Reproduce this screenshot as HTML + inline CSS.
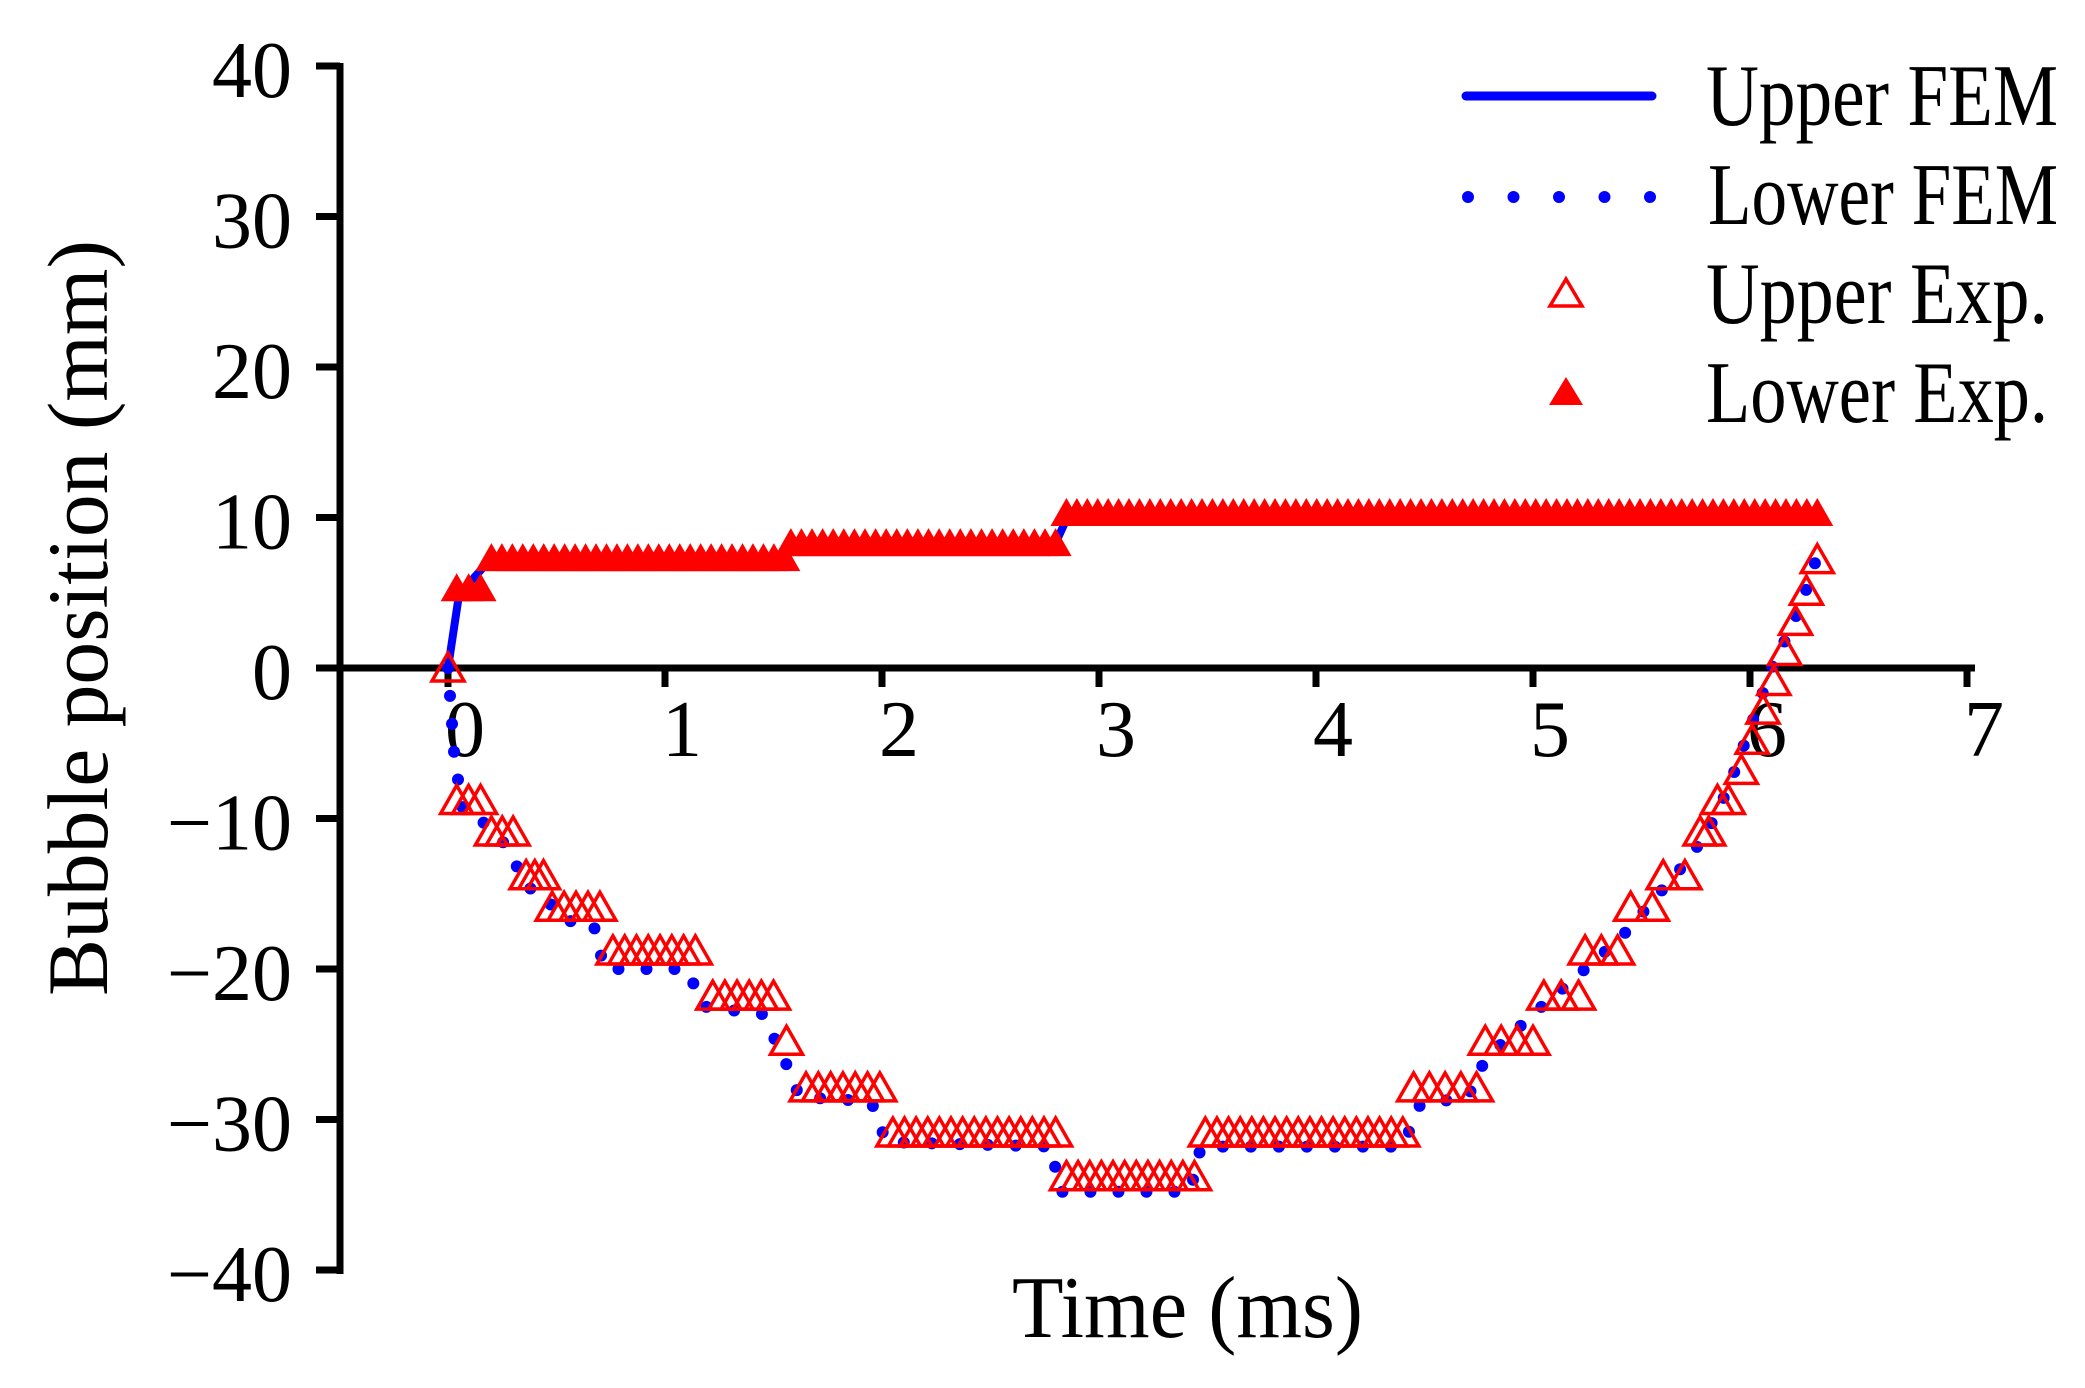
<!DOCTYPE html>
<html><head><meta charset="utf-8"><style>
html,body{margin:0;padding:0;background:#fff;}
svg{display:block;}
text{font-family:"Liberation Serif",serif;fill:#000;}
</style></head><body>
<svg id="s" width="2085" height="1388" viewBox="0 0 2085 1388" xmlns="http://www.w3.org/2000/svg">
<rect width="2085" height="1388" fill="#fff"/>
<g id="axes" stroke="#000" stroke-width="7" fill="none">
<line x1="340" y1="63" x2="340" y2="1274"/>
<line x1="337" y1="668" x2="1975" y2="668"/>
</g>
<g id="ticks" stroke="#000" stroke-width="7"></g>
<g id="labels" font-size="80"></g>
<g id="data"></g>
<text x="0" y="0" font-size="86" text-anchor="middle" transform="translate(107,618) rotate(-90)" textLength="756" lengthAdjust="spacingAndGlyphs">Bubble position (mm)</text>
<text x="1012" y="1337" font-size="88" textLength="351" lengthAdjust="spacingAndGlyphs">Time (ms)</text>
<g id="legend">
<line x1="1466" y1="96" x2="1652" y2="96" stroke="#0000ff" stroke-width="9" stroke-linecap="round"/>
<line x1="1468" y1="197" x2="1652" y2="197" stroke="#0000ff" stroke-width="12" stroke-linecap="round" stroke-dasharray="0 45.5"/>
<polygon points="1550,306 1582,306 1566,279" fill="none" stroke="#ff0000" stroke-width="3.5"/>
<polygon points="1549,405 1583,405 1566,377" fill="#ff0000"/>
<text x="1706" y="125" font-size="88" textLength="352" lengthAdjust="spacingAndGlyphs">Upper FEM</text>
<text x="1708" y="224" font-size="88" textLength="350" lengthAdjust="spacingAndGlyphs">Lower FEM</text>
<text x="1706" y="323" font-size="88" textLength="342" lengthAdjust="spacingAndGlyphs">Upper Exp.</text>
<text x="1706" y="422" font-size="88" textLength="342" lengthAdjust="spacingAndGlyphs">Lower Exp.</text>
</g>
</svg>
<script>
(function(){
var NS="http://www.w3.org/2000/svg";
function X(t){return 448+217*t;}
function Y(v){return 668-15.05*v;}
function el(tag,attrs,parent,txt){var e=document.createElementNS(NS,tag);for(var k in attrs)e.setAttribute(k,attrs[k]);if(txt!==undefined)e.textContent=txt;parent.appendChild(e);return e;}
var ticks=document.getElementById('ticks'),labels=document.getElementById('labels'),data=document.getElementById('data');
for(var v=-40;v<=40;v+=10){var y=Y(v);el('line',{x1:316,y1:y,x2:340,y2:y},ticks);
 el('text',{x:292,y:y+31,'text-anchor':'end'},labels,(v<0?'\u2212':'')+Math.abs(v));}
for(var t=0;t<=7;t++){var x=X(t);el('line',{x1:x,y1:668,x2:x,y2:687},ticks);
 el('text',{x:x+17,y:756,'text-anchor':'middle'},labels,String(t));}
var up=[[0,0],[0.05,4.8],[0.12,6],[0.2,7.3],[1.55,7.4],[1.6,8.3],[2.8,8.3],[2.86,10.2],[6.3,10.2]];
el('polyline',{points:up.map(function(p){return X(p[0])+','+Y(p[1]);}).join(' '),fill:'none',stroke:'#0000ff','stroke-width':8,'stroke-linejoin':'round'},data);
var lo=[[0,0],[0.03,-6],[0.07,-9.5],[0.15,-10],[0.2,-11],[0.25,-11.5],[0.3,-12.5],[0.35,-14.5],[0.45,-15],[0.5,-16.5],[0.6,-17],[0.67,-17],[0.72,-20],[1.1,-20],[1.18,-22.5],[1.45,-23],[1.55,-26],[1.62,-28.5],[1.95,-28.8],[2.02,-31.5],[2.78,-31.8],[2.82,-34.8],[3.42,-34.8],[3.47,-31.8],[4.4,-31.8],[4.48,-29],[4.7,-28.5],[4.78,-26],[5.0,-23],[5.2,-20.5],[5.4,-18],[5.55,-15.5],[5.7,-13],[5.8,-11],[5.9,-8],[6.0,-4],[6.1,0],[6.2,3],[6.28,6],[6.3,7]];
el('polyline',{points:lo.map(function(p){return X(p[0])+','+Y(p[1]);}).join(' '),fill:'none',stroke:'#0000ff','stroke-width':12,'stroke-linecap':'round','stroke-linejoin':'round','stroke-dasharray':'0 28'},data);
function tri(t,v,filled){var cx=X(t),cy=Y(v);
 var pts=(cx-16)+','+(cy+13)+' '+(cx+16)+','+(cy+13)+' '+cx+','+(cy-15);
 if(filled)el('polygon',{points:pts,fill:'#ff0000'},data);
 else el('polygon',{points:pts,fill:'none',stroke:'#ff0000','stroke-width':3.5},data);}
function grp(g,filled){for(var i=0;i<g[2];i++){var t=g[2]==1?g[0]:g[0]+(g[1]-g[0])*i/(g[2]-1);tri(t,g[3],filled);}}
var hol=[[0,0,1,0],[0.04,0.15,3,-8.8],[0.2,0.3,3,-10.9],[0.36,0.44,3,-13.8],[0.48,0.7,5,-15.9],[0.76,1.14,8,-18.8],[1.22,1.5,6,-21.8],[1.56,1.56,1,-24.8],[1.65,1.99,7,-27.9],[2.05,2.8,15,-30.9],[2.85,3.44,12,-33.8],[3.49,4.4,18,-30.9],[4.45,4.74,5,-27.9],[4.78,5.0,4,-24.8],[5.05,5.21,3,-21.8],[5.24,5.39,3,-18.8],[5.45,5.55,2,-15.9],[5.6,5.7,2,-13.8],[5.77,5.81,2,-10.9],[5.85,5.9,2,-8.8],
[5.96,5.96,1,-6.8],[6.01,6.01,1,-4.8],[6.06,6.06,1,-2.8],[6.11,6.11,1,-0.9],[6.16,6.16,1,1.1],[6.21,6.21,1,3.1],[6.26,6.26,1,5.1],[6.31,6.31,1,7.2]];
var fil=[[0.04,0.15,3,5.3],[0.2,1.55,29,7.3],[1.58,2.8,26,8.3],[2.85,6.31,73,10.3]];
fil.forEach(function(g){grp(g,true);});
hol.forEach(function(g){grp(g,false);});
})();
</script>
</body></html>
